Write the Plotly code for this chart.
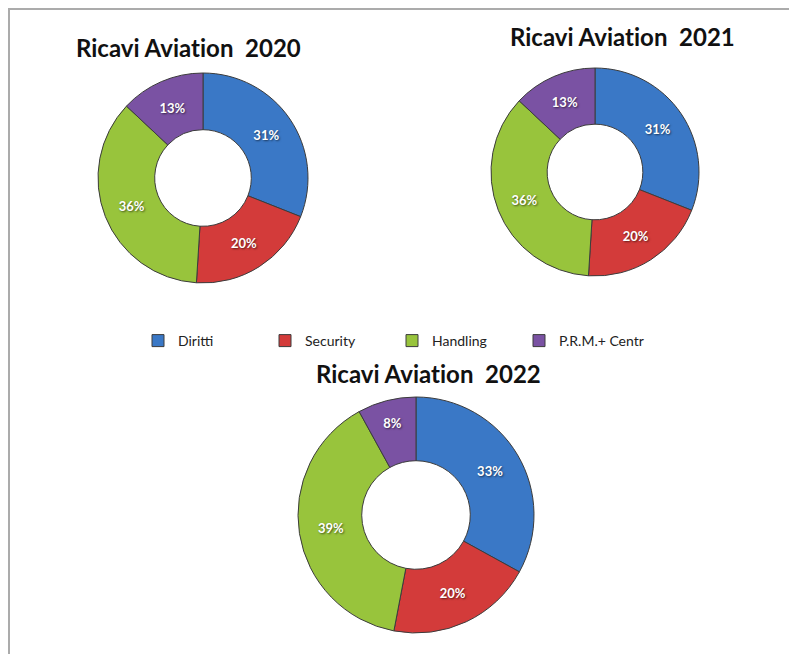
import plotly.graph_objects as go

# Revenue split (percent) by category for each year
categories = ["Diritti", "Security", "Handling", "P.R.M.+ Centr"]
share_2020 = [31, 20, 36, 13]
share_2021 = [31, 20, 36, 13]
share_2022 = [33, 20, 39, 8]
years = ["2020", "2021", "2022"]

colors = ["#3a78c6", "#d33b3a", "#98c43c", "#7a52a3"]

W, H = 789, 654


def px_domain(cx, cy, r):
    """Convert a pixel centre/radius into a paper-domain box."""
    return dict(
        x=[(cx - r) / W, (cx + r) / W],
        y=[(H - cy - r) / H, (H - cy + r) / H],
    )


pies = [
    (share_2020, px_domain(203, 178, 105), True),
    (share_2021, px_domain(595, 172, 104), False),
    (share_2022, px_domain(416, 515, 118), False),
]

fig = go.Figure()
for values, dom, show in pies:
    fig.add_trace(go.Pie(
        labels=categories,
        values=values,
        hole=0.46,
        sort=False,
        direction="clockwise",
        rotation=0,
        domain=dom,
        marker=dict(colors=colors, line=dict(color="#3c3c3c", width=1)),
        texttemplate="%{value}%",
        textposition="inside",
        insidetextorientation="horizontal",
        textfont=dict(family="Lato", size=13, color="white", weight="bold",
                      shadow="1px 1px 2px rgba(0,0,0,0.55)"),
        showlegend=show,
        hoverinfo="label+value",
    ))

# zero-width non-joiner keeps Lato from fusing "ti" into a ligature
title_pos = [(188, 47), (622, 37), (428, 373)]
for yr, (tx, ty) in zip(years, title_pos):
    fig.add_annotation(
        text=f"<b>Ricavi Aviat\u200cion  {yr}</b>",
        x=tx / W, y=1 - ty / H, xref="paper", yref="paper",
        xanchor="center", yanchor="middle", showarrow=False,
        font=dict(family="Lato", size=24, color="#111111"),
    )

# Outer frame of the chart area
fig.add_shape(type="rect", xref="paper", yref="paper",
              x0=9 / W, y0=-0.05, x1=1.05, y1=1 - 9 / H,
              line=dict(color="#ababab", width=2), fillcolor="rgba(0,0,0,0)")

fig.update_layout(
    width=W, height=H,
    margin=dict(l=0, r=0, t=0, b=0),
    paper_bgcolor="white",
    plot_bgcolor="white",
    legend=dict(
        orientation="h",
        x=138 / W, y=1 - 341 / H,
        xanchor="left", yanchor="middle",
        entrywidth=82, entrywidthmode="pixels",
        itemwidth=30,
        font=dict(family="Lato", size=14, color="#222222"),
        bgcolor="rgba(0,0,0,0)",
    ),
)

fig.write_html("out.html")
